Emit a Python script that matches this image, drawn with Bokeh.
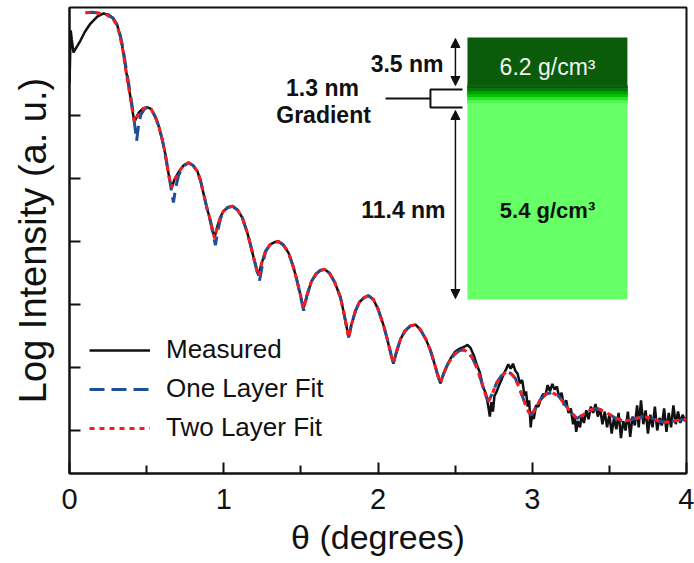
from bokeh.plotting import figure
from bokeh.models import (Range1d, FixedTicker, Legend, LegendItem,
                          Arrow, NormalHead, Label)
from bokeh.embed import file_html
from bokeh.resources import INLINE

# ---------------- data ----------------
# Measured reflectivity (theta in degrees, log intensity in arbitrary units)
measured_theta = [
    0.000, 0.008, 0.015, 0.026, 0.050, 0.071, 0.100, 0.136, 0.180, 0.220, 0.255, 0.285,
    0.310, 0.331, 0.348, 0.363, 0.380, 0.395, 0.410, 0.421, 0.435, 0.450, 0.475, 0.506,
    0.530, 0.558, 0.580, 0.603, 0.620, 0.635, 0.648, 0.661, 0.680, 0.707, 0.740, 0.771,
    0.800, 0.830, 0.850, 0.869, 0.892, 0.914, 0.928, 0.940, 0.960, 0.980, 0.998, 1.025,
    1.057, 1.090, 1.120, 1.154, 1.175, 1.193, 1.210, 1.225, 1.245, 1.271, 1.300, 1.330,
    1.355, 1.385, 1.420, 1.452, 1.475, 1.500, 1.517, 1.540, 1.569, 1.600, 1.625, 1.653,
    1.685, 1.720, 1.757, 1.780, 1.800, 1.809, 1.830, 1.854, 1.880, 1.910, 1.938, 1.970,
    2.000, 2.036, 2.060, 2.085, 2.100, 2.120, 2.146, 2.175, 2.210, 2.243, 2.275, 2.310,
    2.340, 2.365, 2.390, 2.405, 2.425, 2.450, 2.475, 2.500, 2.530, 2.561,
    2.580, 2.600, 2.620, 2.640, 2.660, 2.680, 2.700, 2.715, 2.725, 2.735, 2.745, 2.755,
    2.770, 2.785, 2.800, 2.815, 2.830, 2.845, 2.860, 2.875, 2.890, 2.905, 2.920, 2.935,
    2.950, 2.960, 2.970, 2.980, 2.990, 3.000, 3.010, 3.025, 3.040, 3.055, 3.070, 3.085,
    3.100, 3.115, 3.130, 3.145, 3.160, 3.175, 3.190, 3.205, 3.220, 3.235, 3.250, 3.265,
    3.275, 3.285, 3.295, 3.310, 3.320, 3.335, 3.350, 3.365, 3.380, 3.395, 3.410, 3.425,
    3.440, 3.455, 3.470, 3.485, 3.500, 3.515, 3.530, 3.545, 3.560, 3.575, 3.590, 3.605,
    3.620, 3.635, 3.650, 3.665, 3.680, 3.690, 3.705, 3.720, 3.735, 3.750, 3.765, 3.780,
    3.795, 3.810, 3.825, 3.840, 3.855, 3.870, 3.885, 3.900, 3.915, 3.930, 3.945, 3.960,
    3.975, 3.990, 4.000,
]
measured_logI = [
    6.51, 7.35, 7.20, 7.00, 7.10, 7.19, 7.33, 7.46, 7.57, 7.62, 7.60, 7.54,
    7.43, 7.24, 7.02, 6.76, 6.52, 6.29, 6.05, 5.89, 5.98, 6.05, 6.11, 6.13,
    6.10, 5.97, 5.82, 5.60, 5.40, 5.17, 5.00, 4.84, 4.98, 5.10, 5.21, 5.25,
    5.21, 5.11, 4.96, 4.76, 4.52, 4.33, 4.18, 4.06, 4.25, 4.40, 4.48, 4.54,
    4.56, 4.50, 4.38, 4.13, 3.93, 3.75, 3.60, 3.46, 3.65, 3.85, 3.95, 3.99,
    4.00, 3.95, 3.82, 3.59, 3.38, 3.12, 2.94, 3.15, 3.37, 3.49, 3.54, 3.56,
    3.50, 3.35, 3.11, 2.85, 2.60, 2.48, 2.70, 2.90, 3.04, 3.11, 3.14, 3.08,
    2.93, 2.67, 2.45, 2.20, 2.06, 2.25, 2.45, 2.58, 2.66, 2.68, 2.60, 2.45,
    2.27, 2.07, 1.85, 1.75, 1.90, 2.05, 2.16, 2.25, 2.30, 2.33,
    2.36, 2.31, 2.20, 2.05, 1.92, 1.70, 1.58, 1.38, 1.22, 1.45, 1.30, 1.55,
    1.62, 1.72, 1.80, 1.90, 1.97, 2.05, 1.98, 2.06, 1.95, 1.90, 1.75, 1.80,
    1.55, 1.62, 1.38, 1.48, 1.05, 1.30, 1.18, 1.40, 1.38, 1.50, 1.58, 1.55,
    1.72, 1.62, 1.74, 1.65, 1.70, 1.52, 1.60, 1.40, 1.48, 1.28, 1.35, 1.10,
    1.22, 0.98, 1.15, 1.05, 1.25, 1.12, 1.32, 1.18, 1.38, 1.28, 1.42, 1.22,
    1.35, 1.10, 1.30, 1.05, 1.25, 0.95, 1.20, 1.02, 1.28, 0.88, 1.15, 1.00,
    1.30, 0.90, 1.22, 1.08, 1.40, 1.05, 1.48, 1.10, 1.32, 0.95, 1.25, 1.05,
    1.38, 1.00, 1.20, 1.08, 1.35, 0.98, 1.28, 1.05, 1.40, 1.10, 1.30, 1.12,
    1.25, 1.15, 1.20,
]

# Shared tail of both fits (theta >= 1.54)
fit_tail_theta = [
    1.540, 1.569, 1.600, 1.625, 1.653, 1.685, 1.720, 1.757, 1.780, 1.800, 1.810, 1.830,
    1.854, 1.880, 1.910, 1.938, 1.970, 2.000, 2.036, 2.060, 2.085, 2.100, 2.120, 2.146,
    2.175, 2.210, 2.243, 2.275, 2.310, 2.340, 2.365, 2.390, 2.405, 2.425, 2.450, 2.475,
    2.500, 2.530, 2.555, 2.580, 2.610, 2.640, 2.670, 2.695, 2.715, 2.740, 2.770, 2.800,
    2.830, 2.860, 2.890, 2.920, 2.950, 2.975, 2.995, 3.020, 3.050, 3.090, 3.130, 3.170,
    3.210, 3.250, 3.290, 3.330, 3.380, 3.420, 3.470, 3.530, 3.580, 3.620, 3.670, 3.720,
    3.770, 3.820, 3.860, 3.920, 4.000,
]
fit_tail_logI = [
    3.15, 3.37, 3.49, 3.54, 3.56, 3.50, 3.35, 3.11, 2.85, 2.60, 2.48, 2.70,
    2.90, 3.04, 3.11, 3.14, 3.08, 2.93, 2.67, 2.45, 2.20, 2.07, 2.25, 2.45,
    2.58, 2.66, 2.68, 2.60, 2.45, 2.27, 2.07, 1.86, 1.76, 1.90, 2.04, 2.14,
    2.22, 2.27, 2.28, 2.25, 2.16, 2.00, 1.78, 1.58, 1.46, 1.58, 1.76, 1.87,
    1.92, 1.91, 1.83, 1.65, 1.45, 1.30, 1.24, 1.35, 1.48, 1.58, 1.60, 1.55,
    1.42, 1.29, 1.19, 1.25, 1.33, 1.35, 1.30, 1.21, 1.16, 1.16, 1.19, 1.22,
    1.20, 1.15, 1.13, 1.15, 1.18,
]

# One layer fit, low-angle part (deeper minima)
one_layer_theta = [
    0.104, 0.150, 0.200, 0.240, 0.280, 0.312, 0.334, 0.351, 0.367, 0.384, 0.399, 0.413,
    0.425, 0.435, 0.448, 0.462, 0.485, 0.506, 0.530, 0.558, 0.580, 0.603, 0.620, 0.636,
    0.650, 0.662, 0.674, 0.688, 0.707, 0.740, 0.771, 0.800, 0.830, 0.850, 0.869, 0.892,
    0.914, 0.932, 0.946, 0.962, 0.980, 0.998, 1.025, 1.057, 1.090, 1.120, 1.154, 1.175,
    1.193, 1.212, 1.232, 1.250, 1.271, 1.300, 1.330, 1.355, 1.385, 1.420, 1.452, 1.475,
    1.500, 1.518,
]
one_layer_logI = [
    7.63, 7.64, 7.62, 7.60, 7.55, 7.43, 7.22, 7.00, 6.75, 6.50, 6.27, 6.04,
    5.80, 5.60, 5.85, 6.01, 6.10, 6.13, 6.10, 5.97, 5.82, 5.60, 5.40, 5.17,
    4.97, 4.78, 4.62, 4.85, 5.05, 5.20, 5.25, 5.21, 5.11, 4.96, 4.76, 4.52,
    4.31, 4.10, 3.94, 4.18, 4.37, 4.47, 4.54, 4.56, 4.50, 4.38, 4.13, 3.93,
    3.75, 3.56, 3.38, 3.62, 3.84, 3.95, 3.99, 4.00, 3.95, 3.82, 3.59, 3.38,
    3.10, 2.90,
]

# Two layer fit, low-angle part
two_layer_theta = [
    0.104, 0.150, 0.200, 0.240, 0.280, 0.310, 0.331, 0.348, 0.363, 0.380, 0.395, 0.410,
    0.423, 0.437, 0.452, 0.478, 0.506, 0.530, 0.558, 0.580, 0.603, 0.620, 0.635, 0.648,
    0.662, 0.680, 0.707, 0.740, 0.771, 0.800, 0.830, 0.850, 0.869, 0.892, 0.914, 0.928,
    0.941, 0.960, 0.980, 0.998, 1.025, 1.057, 1.090, 1.120, 1.154, 1.175, 1.193, 1.210,
    1.226, 1.245, 1.271, 1.300, 1.330, 1.355, 1.385, 1.420, 1.452, 1.475, 1.500, 1.518,
]
two_layer_logI = [
    7.63, 7.64, 7.62, 7.60, 7.54, 7.42, 7.22, 7.00, 6.75, 6.50, 6.27, 6.04,
    5.89, 5.97, 6.05, 6.11, 6.13, 6.10, 5.97, 5.82, 5.60, 5.40, 5.17, 5.00,
    4.86, 4.98, 5.10, 5.21, 5.25, 5.21, 5.11, 4.96, 4.76, 4.52, 4.33, 4.17,
    4.05, 4.25, 4.40, 4.48, 4.54, 4.56, 4.50, 4.38, 4.13, 3.93, 3.75, 3.59,
    3.45, 3.65, 3.85, 3.95, 3.99, 4.00, 3.95, 3.82, 3.59, 3.38, 3.12, 2.93,
]

series_labels = ["Measured", "One Layer Fit", "Two Layer Fit"]
x_ticks = [0, 1, 2, 3, 4]
x_minor_ticks = [0.5, 1.5, 2.5, 3.5]
y_ticks = [1, 2, 3, 4, 5, 6]

# Inset: film model (layer boundaries drawn in data space of the plot)
layer_labels = ["3.5 nm", "1.3 nm", "Gradient", "11.4 nm"]
density_labels = ["6.2 g/cm\u00b3", "5.4 g/cm\u00b3"]
gradient_colors = ["#0a5c0a", "#067806", "#00a000", "#00c600", "#2ee02e", "#52f552"]
gradient_edges = [6.476, 6.429, 6.381, 6.333, 6.286, 6.238, 6.190]

FONT = "Liberation Sans"

# ---------------- figure ----------------
p = figure(frame_width=617, frame_height=466, output_backend="svg", toolbar_location=None,
           x_range=Range1d(0, 4), y_range=Range1d(0.3175, 7.714),
           min_border_left=69, min_border_right=8, min_border_top=7, min_border_bottom=90,
           background_fill_color="white", border_fill_color="white")
p.grid.visible = False
p.outline_line_color = "#111111"
p.outline_line_width = 2

xa = p.xaxis[0]
xa.ticker = FixedTicker(ticks=x_ticks, minor_ticks=x_minor_ticks)
xa.major_tick_in = 11
xa.major_tick_out = 0
xa.minor_tick_in = 8
xa.minor_tick_out = 0
xa.axis_line_width = 2
xa.major_tick_line_width = 2
xa.minor_tick_line_width = 2
xa.axis_line_color = "#111111"
xa.major_tick_line_color = "#111111"
xa.minor_tick_line_color = "#111111"
xa.major_label_text_font = FONT
xa.major_label_text_font_size = "29px"
xa.major_label_text_color = "#111111"
xa.major_label_standoff = 15
xa.axis_label = "\u03b8 (degrees)"
xa.axis_label_text_font = FONT
xa.axis_label_text_font_size = "34px"
xa.axis_label_text_font_style = "normal"
xa.axis_label_text_color = "#111111"
xa.axis_label_standoff = 6

ya = p.yaxis[0]
ya.ticker = FixedTicker(ticks=y_ticks)
ya.major_tick_in = 11
ya.major_tick_out = 0
ya.minor_tick_in = 0
ya.minor_tick_out = 0
ya.axis_line_width = 2
ya.major_tick_line_width = 2
ya.axis_line_color = "#111111"
ya.major_tick_line_color = "#111111"
ya.major_label_overrides = {t: "" for t in y_ticks}
ya.major_label_text_font_size = "12px"
ya.major_label_standoff = 0
ya.axis_label = "Log Intensity (a. u.)"
ya.axis_label_text_font = FONT
ya.axis_label_text_font_size = "38px"
ya.axis_label_text_font_style = "normal"
ya.axis_label_text_color = "#111111"
ya.axis_label_standoff = 16

# ---------------- inset schematic ----------------
box_left, box_right = 2.580, 3.617
p.quad(left=[box_left], right=[box_right], bottom=[gradient_edges[0]], top=[7.238],
       fill_color="#0a5c0a", line_color=None)
p.quad(left=[box_left] * 6, right=[box_right] * 6, bottom=gradient_edges[1:], top=gradient_edges[:-1],
       fill_color=gradient_colors, line_color=gradient_colors, line_width=0.8)
p.quad(left=[box_left], right=[box_right], bottom=[3.079], top=[gradient_edges[-1]],
       fill_color="#66ff66", line_color=None)

p.add_layout(Label(x=3.099, y=6.762, text=density_labels[0], text_align="center",
                   text_baseline="middle", text_font=FONT, text_font_size="23px",
                   text_color="#f2f2f2"))
p.add_layout(Label(x=3.099, y=4.492, text=density_labels[1], text_align="center",
                   text_baseline="middle", text_font=FONT, text_font_size="22px",
                   text_font_style="bold", text_color="#111111"))
p.add_layout(Label(x=2.425, y=6.825, text=layer_labels[0], text_align="right",
                   text_baseline="middle", text_font=FONT, text_font_size="23px",
                   text_font_style="bold", text_color="#111111"))
p.add_layout(Label(x=1.640, y=6.444, text=layer_labels[1], text_align="center",
                   text_baseline="middle", text_font=FONT, text_font_size="23px",
                   text_font_style="bold", text_color="#111111"))
p.add_layout(Label(x=1.647, y=6.000, text=layer_labels[2], text_align="center",
                   text_baseline="middle", text_font=FONT, text_font_size="23px",
                   text_font_style="bold", text_color="#111111"))
p.add_layout(Label(x=2.438, y=4.492, text=layer_labels[3], text_align="right",
                   text_baseline="middle", text_font=FONT, text_font_size="23px",
                   text_font_style="bold", text_color="#111111"))

for y0, y1 in [(7.222, 6.476), (6.079, 3.095)]:
    p.add_layout(Arrow(start=NormalHead(size=9, fill_color="#111111", line_color="#111111", line_width=1),
                       end=NormalHead(size=9, fill_color="#111111", line_color="#111111", line_width=1),
                       x_start=2.502, y_start=y0, x_end=2.502, y_end=y1,
                       line_color="#111111", line_width=1.5))

p.multi_line(xs=[[2.548, 2.340, 2.340, 2.548], [2.049, 2.340]],
             ys=[[6.413, 6.413, 6.127, 6.127], [6.270, 6.270]],
             line_color="#111111", line_width=2)

# ---------------- curves ----------------
r_meas = p.line(measured_theta, measured_logI, line_color="#111111", line_width=2.5)
r_one = p.line(one_layer_theta + fit_tail_theta, one_layer_logI + fit_tail_logI,
               line_color="#1f4f94", line_width=3, line_dash="15 7")
r_two = p.line(two_layer_theta + fit_tail_theta, two_layer_logI + fit_tail_logI,
               line_color="#ff1a1a", line_width=3, line_dash="5 5")

legend = Legend(items=[LegendItem(label=series_labels[0], renderers=[r_meas]),
                       LegendItem(label=series_labels[1], renderers=[r_one]),
                       LegendItem(label=series_labels[2], renderers=[r_two])],
                location=(20, 30), label_text_font=FONT, label_text_font_size="26px",
                label_text_color="#111111", glyph_width=61, glyph_height=30, label_height=30,
                label_standoff=16, spacing=8, padding=0, margin=0,
                border_line_alpha=0, background_fill_alpha=0)
p.add_layout(legend)

open("out.html", "w").write(file_html(p, INLINE))
